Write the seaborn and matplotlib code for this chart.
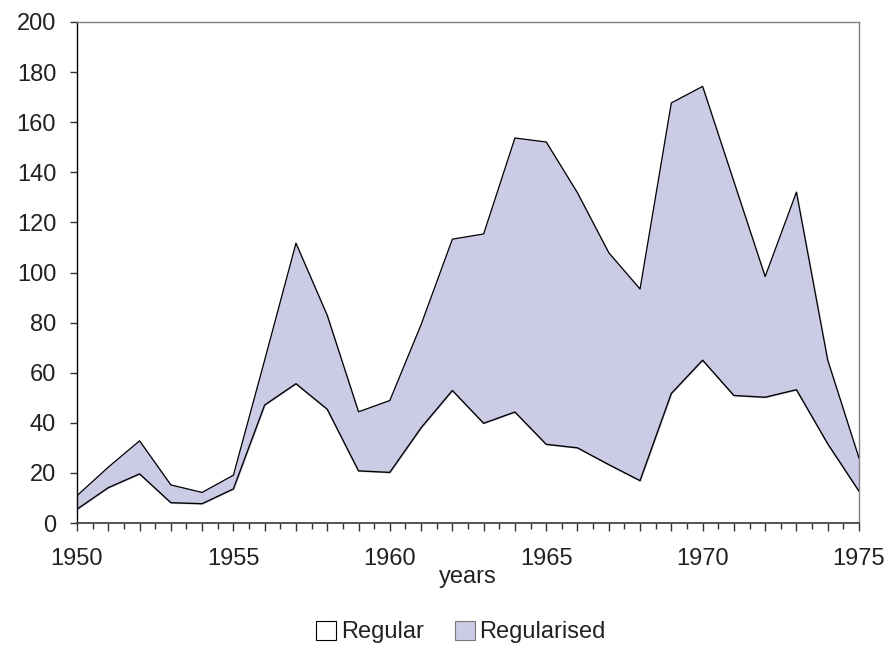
import numpy as np
import pandas as pd
import matplotlib
matplotlib.use("Agg")
import matplotlib.pyplot as plt
from matplotlib.patches import Patch
import seaborn as sns

years = list(range(1950, 1976))
# lower band
regular = [5.5, 14.1, 19.6, 8.1, 7.7, 13.6, 47.1, 55.6, 45.4, 20.8, 20.2, 38.0, 52.9,
           39.8, 44.3, 31.4, 30.0, 23.3, 16.9, 51.7, 65.0, 50.9, 50.2, 53.2, 31.6, 12.7]
# stacked on top of regular
regularised = [5.4, 8.2, 13.2, 7.1, 4.5, 5.5, 18.0, 56.1, 37.5, 23.6, 28.7, 41.2, 60.4,
               75.6, 109.4, 120.7, 101.8, 84.6, 76.5, 116.0, 109.3, 85.4, 48.2, 78.9, 33.4, 13.2]
series_names = ["Regular", "Regularised"]

df = pd.DataFrame({"year": years, "Regular": regular, "Regularised": regularised})
df["total"] = df["Regular"] + df["Regularised"]

sns.set_style("white")
plt.rcParams["font.family"] = ["Liberation Sans", "DejaVu Sans"]

fill_col = "#CCCBE5"
fs = 17

fig = plt.figure(figsize=(8.9, 6.48), dpi=100)
ax = fig.add_axes([77 / 890, 1 - 523 / 648, (859 - 77) / 890, (523 - 22) / 648])

ax.fill_between(df["year"], 0, df["Regular"], color="white", zorder=1)
ax.fill_between(df["year"], df["Regular"], df["total"], color=fill_col, zorder=1)
sns.lineplot(data=df, x="year", y="Regular", color="black", lw=1, ax=ax, zorder=3)
sns.lineplot(data=df, x="year", y="total", color="black", lw=0.9, ax=ax, zorder=3)

ax.set_xlim(1950, 1975)
ax.set_ylim(0, 200)

ax.set_xticks(years)
ax.set_xticklabels([str(y) if y % 5 == 0 else "" for y in years])
ax.set_xticks(np.arange(1950.5, 1975, 1.0), minor=True)
ax.tick_params(axis="x", which="major", direction="out", length=6, width=1,
               color="#333333", pad=12, labelsize=fs, labelcolor="#222222")
ax.tick_params(axis="x", which="minor", direction="inout", length=8, width=1,
               color="#333333")
ax.set_yticks(range(0, 201, 20))
ax.tick_params(axis="y", direction="out", length=5, width=1, color="#333333",
               pad=10, labelsize=fs, labelcolor="#222222")
ax.tick_params(bottom=True, left=True, which="both")
ax.yaxis.set_tick_params(which="minor", left=False)

for side in ["top", "right"]:
    ax.spines[side].set_color("#808080")
    ax.spines[side].set_linewidth(1)
ax.spines["left"].set_color("black")
ax.spines["left"].set_linewidth(1)
ax.spines["bottom"].set_color("#444444")
ax.spines["bottom"].set_linewidth(1.3)

ax.set_xlabel("years", fontsize=fs, color="#222222", labelpad=-3)
ax.set_ylabel("")

handles = [Patch(facecolor="white", edgecolor="black", lw=0.8, label=series_names[0]),
           Patch(facecolor=fill_col, edgecolor="#777777", lw=0.8, label=series_names[1])]
fig.legend(handles=handles, loc="center", bbox_to_anchor=(461 / 890, 1 - 632 / 648),
           ncol=2, frameon=False, fontsize=fs, handlelength=0.85, handleheight=0.85,
           handletextpad=0.2, columnspacing=1.3, labelcolor="#222222")

fig.savefig("out.png", dpi=100)
